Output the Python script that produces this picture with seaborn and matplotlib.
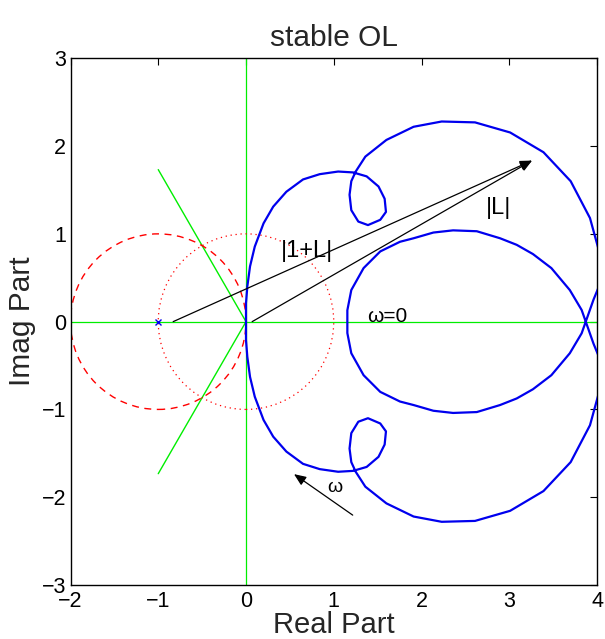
import numpy as np
import pandas as pd
import matplotlib
matplotlib.use("Agg")
import matplotlib.pyplot as plt
from matplotlib.patches import Circle
import seaborn as sns

# ---------------- data ----------------
# Nyquist branch for omega >= 0 (from omega=0 at 1.155 to the origin)
pos_re = [1.155, 1.155, 1.20, 1.34, 1.53, 1.755, 1.91, 2.135, 2.36, 2.63, 2.895,
          3.085, 3.27, 3.48, 3.69, 3.825, 3.96, 4.03, 4.03, 3.92, 3.70, 3.39,
          3.01, 2.61, 2.23, 1.91, 1.60, 1.36, 1.25, 1.20, 1.18, 1.20, 1.28,
          1.39, 1.53, 1.595, 1.58, 1.51, 1.375, 1.22, 1.05, 0.84, 0.65, 0.46,
          0.31, 0.20, 0.10, 0.046, 0.015, 0.00, 0.00]
pos_im = [0.00, 0.13, 0.36, 0.61, 0.80, 0.91, 0.95, 1.015, 1.04, 1.03, 0.95,
          0.875, 0.77, 0.61, 0.36, 0.133, -0.25, -0.42, -0.78, -1.18, -1.60, -1.93,
          -2.155, -2.27, -2.28, -2.22, -2.07, -1.88, -1.71, -1.60, -1.445, -1.27, -1.14,
          -1.10, -1.16, -1.25, -1.40, -1.54, -1.655, -1.70, -1.71, -1.68, -1.62, -1.48,
          -1.31, -1.12, -0.855, -0.63, -0.40, -0.21, 0.00]

# circles: (center_x, center_y, radius)
crit_circle = (-1.0, 0.0, 1.0)   # red dashed
unit_circle = (0.0, 0.0, 1.0)    # red dotted
# green radial lines from origin
ray_x = [0.0, -1.0]
ray_y_up = [0.0, 1.732]
ray_y_dn = [0.0, -1.732]
crit_point = (-1.0, 0.0)

# arrows: (tail, tip)
arrow_1pL = ((-0.83, 0.0), (3.26, 1.835))
arrow_L = ((0.07, 0.0), (3.26, 1.835))
arrow_w = ((1.216, -2.204), (0.547, -1.737))

labels = [("|1+L|", 0.695, 0.80), ("|L|", 2.88, 1.29),
          ("ω=0", 1.38, 0.06), ("ω", 1.01, -1.89)]

xticks = [-2, -1, 0, 1, 2, 3, 4]
yticks = [-3, -2, -1, 0, 1, 2, 3]

# ---------------- figure ----------------
sns.set_theme(style="white")
plt.rcParams['font.family'] = ['Liberation Sans', 'DejaVu Sans']
plt.rcParams['axes.unicode_minus'] = True

fig = plt.figure(figsize=(6.05, 6.39), dpi=100)
ax = fig.add_axes([70.5 / 605, 1 - 585 / 639, (597 - 70.5) / 605, (585 - 58.3) / 639])

green = '#00ee00'
ax.axhline(0, color=green, lw=0.9, zorder=1)
ax.axvline(0, color=green, lw=0.9, zorder=1)
ax.plot(ray_x, ray_y_up, color=green, lw=1.0, zorder=1)
ax.plot(ray_x, ray_y_dn, color=green, lw=1.0, zorder=1)

ax.add_patch(Circle(crit_circle[:2], crit_circle[2], fill=False, ec='red',
                    ls=(0, (5, 4)), lw=1.0, zorder=2))
ax.add_patch(Circle(unit_circle[:2], unit_circle[2], fill=False, ec='red',
                    ls=(0, (1, 3)), lw=0.9, zorder=2))

full_re = list(reversed(pos_re)) + pos_re
full_im = [-v for v in reversed(pos_im)] + pos_im
df = pd.DataFrame({"re": full_re, "im": full_im, "order": range(len(full_re))})
sns.lineplot(data=df, x="re", y="im", sort=False, estimator=None, color='#0000ee',
             lw=1.6, ax=ax, zorder=3)

ax.plot([crit_point[0]], [crit_point[1]], marker='x', color='#0000ee', ms=5, mew=1.0,
        ls='none', zorder=4)

for tail, tip in (arrow_1pL, arrow_L, arrow_w):
    ax.annotate('', xy=tip, xytext=tail,
                arrowprops=dict(arrowstyle='-|>,head_length=0.6,head_width=0.25',
                                color='black', lw=0.9, mutation_scale=12,
                                shrinkA=0, shrinkB=0), zorder=5)

sizes = {"|1+L|": 17, "|L|": 17, "ω=0": 15, "ω": 14}
for txt, x, y in labels:
    ax.text(x, y, txt, fontsize=sizes[txt],
            ha='center' if txt != "ω=0" else 'left', va='center', color='black', zorder=6)

ax.set_xlim(-2, 4)
ax.set_ylim(-3, 3)
ax.set_xticks(xticks)
ax.set_yticks(yticks)
ax.tick_params(direction='in', length=5, width=0.8, top=True, right=True,
               labelsize=15.5, colors='black')
ax.tick_params(axis='x', pad=4)
ax.tick_params(axis='y', pad=3)
for s in ax.spines.values():
    s.set_color('black')
    s.set_linewidth(1.0)
ax.set_xlabel("Real Part", fontsize=21, labelpad=-0.5)
ax.set_ylabel("Imag Part", fontsize=21.5, labelpad=4)
ax.set_title("stable OL", fontsize=21.5, pad=9)
ax.grid(False)

fig.savefig("out.png", dpi=100)
